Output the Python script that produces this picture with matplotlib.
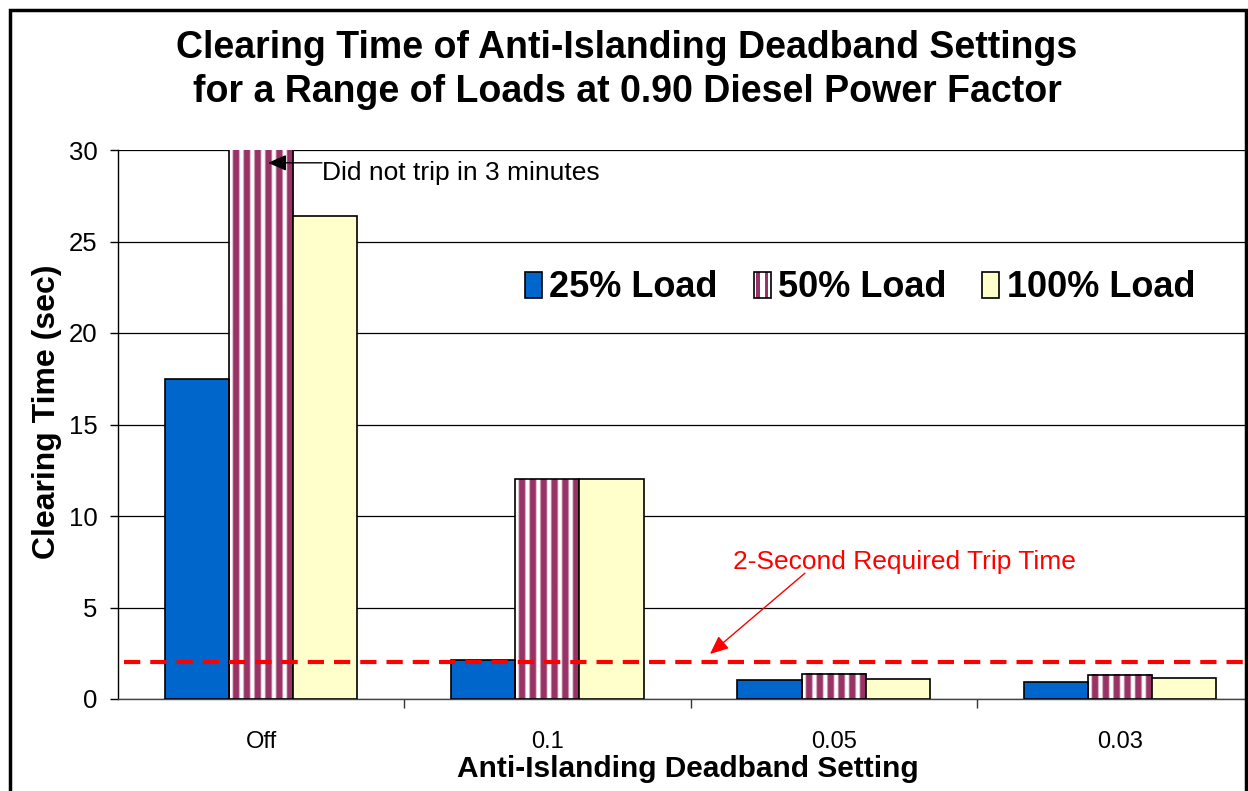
import numpy as np
import matplotlib
matplotlib.use("Agg")
import matplotlib.pyplot as plt
from matplotlib.patches import Rectangle
from matplotlib.legend_handler import HandlerBase
from matplotlib.colors import to_rgb

plt.rcParams['font.family'] = ['Liberation Sans', 'DejaVu Sans']

# ---- data ----
settings = ['Off', '0.1', '0.05', '0.03']
load_25 = [17.5, 2.15, 1.05, 0.95]
load_50 = [180.0, 12.0, 1.37, 1.33]   # "Off" case never tripped (3 min)
load_100 = [26.4, 12.0, 1.07, 1.15]
series_names = ['25% Load', '50% Load', '100% Load']
required_trip = 2.0

BLUE = '#0066CC'
PURPLE = '#993366'
CREAM = '#FFFFCC'


def stripe_rgb(n_stripes, npts=600, phase=0.35):
    """vertical white/purple stripes, soft edges"""
    t = np.linspace(0, n_stripes, npts) + phase
    p = np.clip(0.5 + 1.3 * (np.cos(2 * np.pi * t) + 0.3), 0, 1)
    white = np.array([1.0, 1.0, 1.0])
    purple = np.array(to_rgb(PURPLE))
    rgb = white[None, :] * (1 - p[:, None]) + purple[None, :] * p[:, None]
    return rgb[None, :, :]


class StripeHandler(HandlerBase):
    def create_artists(self, legend, orig_handle, xdescent, ydescent,
                       width, height, fontsize, trans):
        arts = []
        n = 2
        for i in range(n):
            x0 = -xdescent + width * (i + 0.3) / n
            arts.append(Rectangle((x0, -ydescent), width * 0.45 / n, height,
                                  facecolor=PURPLE, edgecolor='none', transform=trans))
        arts.append(Rectangle((-xdescent, -ydescent), width, height,
                              facecolor='none', edgecolor='black', lw=1.2, transform=trans))
        return arts


W, H = 1248, 791
fig = plt.figure(figsize=(W / 100, H / 100), dpi=100)
ax = fig.add_axes([118 / W, 92 / H, 1145 / W, 549 / H])

x = np.arange(len(settings))
bw = 0.224
ymax = 30

b25 = ax.bar(x - bw, load_25, bw, color=BLUE, edgecolor='black', lw=1.2, zorder=3)
b50 = ax.bar(x, load_50, bw, facecolor='none', edgecolor='black', lw=1.2, zorder=3)
b100 = ax.bar(x + bw, load_100, bw, color=CREAM, edgecolor='black', lw=1.2, zorder=3)

# striped fill for the 50% load bars
for p in b50.patches:
    x0, y0 = p.get_x(), p.get_y()
    top = min(y0 + p.get_height(), ymax)
    ax.imshow(stripe_rgb(6), extent=(x0, x0 + p.get_width(), y0, top),
              aspect='auto', interpolation='bilinear', zorder=2.5)

# 2 second requirement line
ax.plot([-0.48, 3.5], [required_trip, required_trip], color='red', lw=3,
        dashes=(3.9, 2.4), zorder=4)

ax.set_xlim(-0.5, 3.5)
ax.set_ylim(0, ymax)
ax.set_yticks(np.arange(0, 31, 5))
ax.set_xticks(x)
ax.set_xticklabels(settings)
ax.set_xticks(np.arange(0.5, 3.5, 1), minor=True)
ax.tick_params(axis='x', which='major', length=0, pad=23, labelsize=17)
ax.tick_params(axis='x', which='minor', length=6.5, width=1, direction='out', color='#333333')
ax.tick_params(axis='y', length=5.8, width=1, direction='out', labelsize=18.5, pad=9)
ax.yaxis.grid(True, color='black', lw=0.9)
ax.set_axisbelow(True)
for s in ['top', 'right']:
    ax.spines[s].set_visible(False)
ax.spines['left'].set_linewidth(1)
ax.spines['bottom'].set_linewidth(1)
ax.spines['bottom'].set_color('#444444')

ax.set_ylabel('Clearing Time (sec)', fontsize=23, fontweight='bold')
ax.yaxis.set_label_coords(-0.062, 0.523)
ax.yaxis.label.set_va('center')
ax.set_xlabel('Anti-Islanding Deadband Setting', fontsize=21.5, fontweight='bold')
ax.xaxis.set_label_coords(0.498, -0.127)
ax.xaxis.label.set_va('center')

fig.text(627 / W, 1 - 70 / H,
         'Clearing Time of Anti-Islanding Deadband Settings\n'
         'for a Range of Loads at 0.90 Diesel Power Factor',
         ha='center', va='center', fontsize=27, fontweight='bold', linespacing=1.3)

# annotations
ax.annotate('', xy=(0.024, 29.3), xytext=(0.2125, 29.3),
            arrowprops=dict(arrowstyle='-|>,head_length=0.8,head_width=0.35',
                            color='black', lw=1, mutation_scale=14, shrinkA=0, shrinkB=0))
ax.text(0.2125, 28.75, 'Did not trip in 3 minutes', fontsize=19, ha='left', va='center')

ax.annotate('', xy=(1.568, 2.46), xytext=(1.90, 6.88),
            arrowprops=dict(arrowstyle='-|>,head_length=0.8,head_width=0.35',
                            color='red', lw=1, mutation_scale=14, shrinkA=0, shrinkB=0))
ax.text(1.648, 7.49, '2-Second Required Trip Time', fontsize=19, color='red',
        ha='left', va='center')

leg_handles = [Rectangle((0, 0), 1, 1, facecolor=BLUE, edgecolor='black', lw=1.2),
               Rectangle((0, 0), 1, 1, facecolor='white', edgecolor='black', lw=1.2),
               Rectangle((0, 0), 1, 1, facecolor=CREAM, edgecolor='black', lw=1.2)]
leg = ax.legend(leg_handles, series_names, ncol=3, frameon=False,
                loc='center', bbox_to_anchor=(0.648, 0.749),
                prop=dict(size=26, weight='bold'),
                handlelength=0.47, handleheight=0.72, handletextpad=0.2, columnspacing=1.0,
                handler_map={leg_handles[1]: StripeHandler()})

# outer frame
fig.patches.append(Rectangle((9.5 / W, -0.05), (1246 - 9.5) / W, 1.05 - 10 / H,
                             transform=fig.transFigure, fill=False, edgecolor='black',
                             lw=2.5, zorder=10))

fig.savefig('out.png', dpi=100)
